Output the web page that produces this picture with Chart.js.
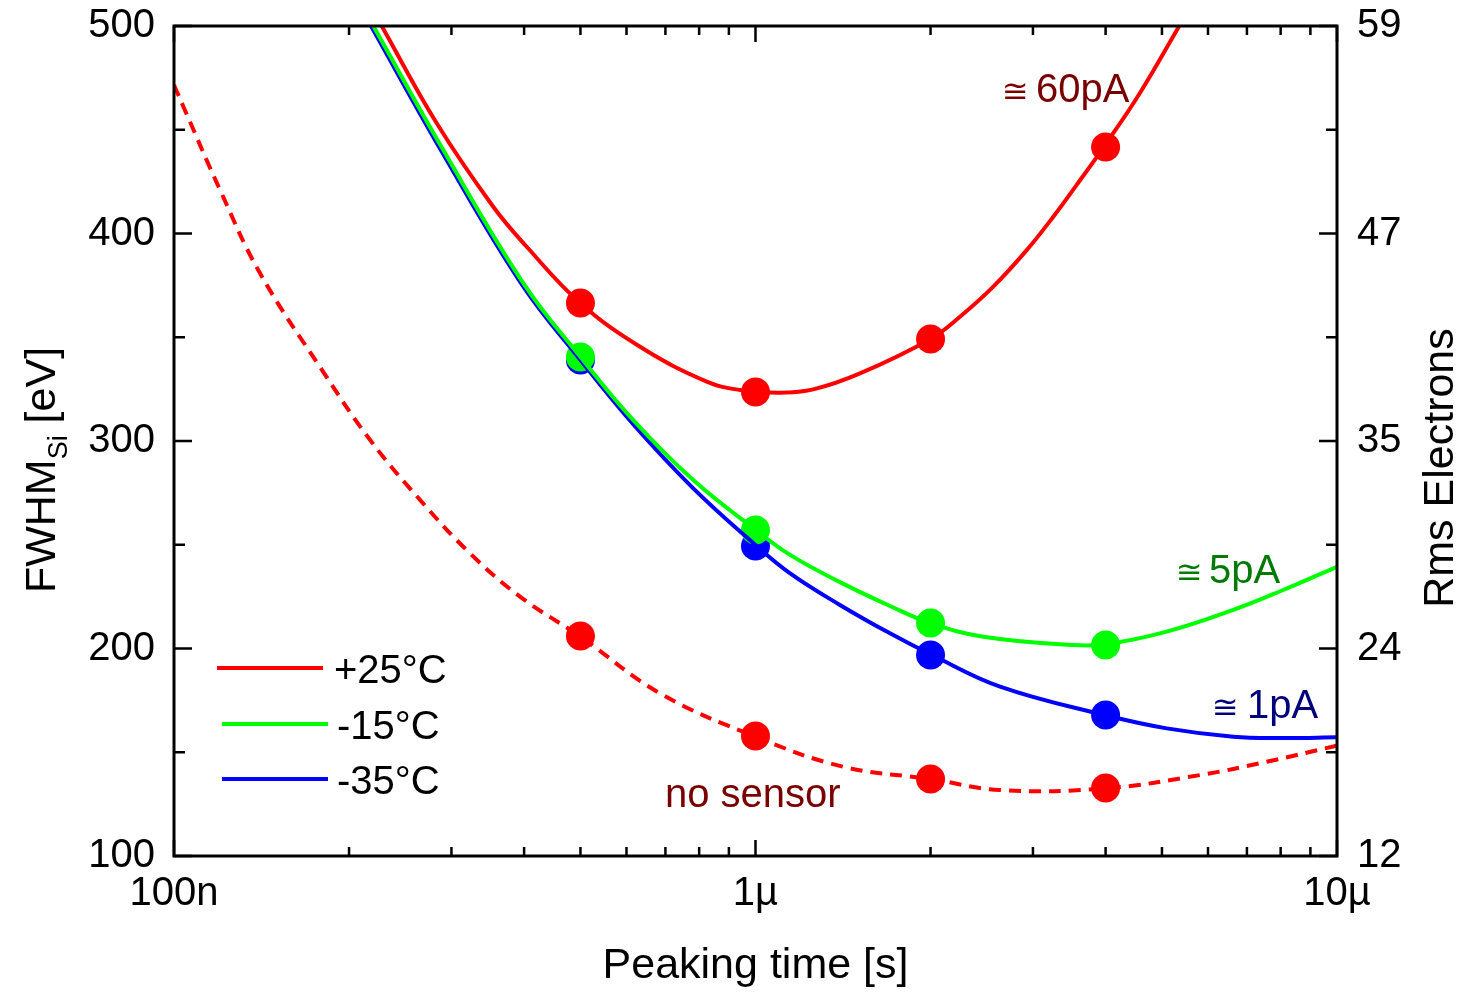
<!DOCTYPE html>
<html><head><meta charset="utf-8">
<script src="https://cdn.jsdelivr.net/npm/chart.js@4.4.0/dist/chart.umd.min.js"></script>
<style>html,body{margin:0;padding:0;background:#fff;}canvas{display:block;}</style>
</head><body>
<canvas id="c" width="1465" height="992"></canvas>
<script>
// ---- data (peaking time in seconds, FWHM in eV) ----
const markerTimes = [5e-7, 1e-6, 2e-6, 4e-6];
const measured25 = [366.5, 323.6, 349.2, 441.7];
const measuredM15 = [340.5, 257.1, 212.3, 201.7];
const measuredM35 = [339.0, 249.4, 196.9, 168.0];
const measuredNoSensor = [206.0, 157.8, 137.1, 132.8];

const fit25Times = [2.276e-7, 2.830e-7, 3.54e-7, 4.042e-7, 5e-7, 6.33e-7, 8.245e-7, 9.404e-7, 1.102e-6, 1.257e-6, 1.5125e-6, 2e-6, 2.247e-6, 2.564e-6, 2.927e-6, 3.252e-6, 3.567e-6, 4e-6, 4.58e-6, 5.355e-6];
const fit25Values = [500, 453.1, 412.9, 393.6, 366.4, 345.4, 328.6, 324.6, 323.3, 324.9, 332.6, 349.2, 359.9, 374.4, 392.0, 408.1, 423.4, 443.0, 467.6, 500];

const fitM15Times = [2.202e-7, 2.905e-7, 3.99e-7, 5e-7, 6.163e-7, 7.816e-7, 1e-6, 1.147e-6, 1.397e-6, 1.703e-6, 2e-6, 2.465e-6, 3.52e-6, 4e-6, 5.095e-6, 6.632e-6, 8.08e-6, 1e-5];
const fitM15Values = [500, 440.2, 376.0, 340.5, 310.1, 281.2, 257.2, 245.1, 232.0, 220.5, 212.2, 205.7, 201.7, 202.0, 208.1, 218.6, 228.2, 239.4];

const fitM35Times = [2.182e-7, 2.89e-7, 3.97e-7, 5e-7, 6.156e-7, 7.816e-7, 1e-6, 1.147e-6, 1.397e-6, 1.703e-6, 2e-6, 2.634e-6, 4e-6, 5.095e-6, 6.632e-6, 8.08e-6, 1e-5];
const fitM35Values = [500, 439.3, 375.2, 339.0, 308.2, 277.2, 249.9, 236.2, 221.0, 207.3, 197.2, 181.6, 167.8, 161.5, 157.5, 156.9, 157.2];

const fitNoSensorTimes = [1e-7, 1.038e-7, 1.2e-7, 1.406e-7, 1.797e-7, 2.174e-7, 2.649e-7, 3.228e-7, 3.936e-7, 5e-7, 6.853e-7, 1e-6, 1.416e-6, 2e-6, 2.634e-6, 4e-6, 5.812e-6, 7.568e-6, 1e-5];
const fitNoSensorValues = [471.6, 461.1, 421, 380.8, 334.2, 300.5, 271.6, 245.9, 225, 205.7, 178.4, 157.5, 143, 137.1, 131.8, 132.6, 139, 145.4, 153.2];

const seriesLabels = ['+25°C', '-15°C', '-35°C'];
const seriesColors = ['#ff0000', '#00ff00', '#0000ff'];

const xTickValues = [1e-7, 1e-6, 1e-5];
const xTickLabels = ['100n', '1µ', '10µ'];
const yTickValues = [100, 200, 300, 400, 500];
const yMinorValues = [150, 250, 350, 450];
const rightTickLabels = ['12', '24', '35', '47', '59'];
const xMinorValues = [2e-7,3e-7,4e-7,5e-7,6e-7,7e-7,8e-7,9e-7,2e-6,3e-6,4e-6,5e-6,6e-6,7e-6,8e-6,9e-6];

const annotations = [
  {sym: '≅', text: '60pA', x: 1002, tx: 1036, y: 102, color: '#7a0000'},
  {sym: '≅', text: '5pA', x: 1176, tx: 1209, y: 583, color: '#007a00'},
  {sym: '≅', text: '1pA', x: 1212, tx: 1247, y: 718, color: '#00007a'}
];

const FONT = '"Liberation Sans", Arial, "DejaVu Sans", sans-serif';

const pts = (xs, ys) => xs.map((x, i) => ({x: x, y: ys[i]}));

function lineDs(label, xs, ys, color, order, dash) {
  return {type: 'line', label, data: pts(xs, ys), borderColor: color, backgroundColor: color,
    borderWidth: 4, pointRadius: 0, tension: 0.4, borderDash: dash || [],
    fill: false, order, yAxisID: 'y'};
}
function markerDs(label, ys, color, order) {
  return {type: 'scatter', label, data: pts(markerTimes, ys), backgroundColor: color, borderColor: color,
    borderWidth: 0, pointRadius: 14.5, pointHoverRadius: 14.5, showLine: false, order, yAxisID: 'y'};
}

const datasets = [
  lineDs(seriesLabels[0], fit25Times, fit25Values, seriesColors[0], 1),
  lineDs(seriesLabels[1], fitM15Times, fitM15Values, seriesColors[1], 2),
  lineDs(seriesLabels[2], fitM35Times, fitM35Values, seriesColors[2], 3),
  lineDs('no sensor', fitNoSensorTimes, fitNoSensorValues, seriesColors[0], 4, [12, 8]),
  markerDs(seriesLabels[0] + ' data', measured25, seriesColors[0], 10),
  markerDs(seriesLabels[1] + ' data', measuredM15, seriesColors[1], 11),
  markerDs(seriesLabels[2] + ' data', measuredM35, seriesColors[2], 12),
  markerDs('no sensor data', measuredNoSensor, seriesColors[0], 13)
];

const decor = {
  id: 'decor',
  afterDraw(chart) {
    const ctx = chart.ctx, a = chart.chartArea, xs = chart.scales.x, ys = chart.scales.y;
    ctx.save();
    ctx.strokeStyle = '#000';
    ctx.lineWidth = 3;
    ctx.strokeRect(a.left, a.top, a.right - a.left, a.bottom - a.top);
    ctx.lineWidth = 2.5;
    ctx.beginPath();
    const tickX = (v, len) => {
      const px = xs.getPixelForValue(v);
      ctx.moveTo(px, a.bottom); ctx.lineTo(px, a.bottom - len);
      ctx.moveTo(px, a.top); ctx.lineTo(px, a.top + len);
    };
    const tickY = (v, len) => {
      const py = ys.getPixelForValue(v);
      ctx.moveTo(a.left, py); ctx.lineTo(a.left + len, py);
      ctx.moveTo(a.right, py); ctx.lineTo(a.right - len, py);
    };
    xTickValues.forEach(v => tickX(v, 16));
    xMinorValues.forEach(v => tickX(v, 9));
    yTickValues.forEach(v => tickY(v, 18));
    yMinorValues.forEach(v => tickY(v, 11));
    ctx.stroke();

    ctx.fillStyle = '#000';
    ctx.font = '43px ' + FONT;
    ctx.textAlign = 'center';
    ctx.textBaseline = 'alphabetic';
    ctx.fillText('Peaking time [s]', (a.left + a.right) / 2, 978);

    ctx.save();
    ctx.translate(55, 470);
    ctx.rotate(-Math.PI / 2);
    ctx.textAlign = 'left';
    const f1 = '43px ' + FONT, f2 = '27px ' + FONT;
    ctx.font = f1; const w1 = ctx.measureText('FWHM').width;
    ctx.font = f2; const w2 = ctx.measureText('Si').width;
    ctx.font = f1; const w3 = ctx.measureText(' [eV]').width;
    let x0 = -(w1 + w2 + w3) / 2;
    ctx.font = f1; ctx.fillText('FWHM', x0, 0);
    ctx.font = f2; ctx.fillText('Si', x0 + w1, 12);
    ctx.font = f1; ctx.fillText(' [eV]', x0 + w1 + w2, 0);
    ctx.restore();

    ctx.save();
    ctx.translate(1453, 468);
    ctx.rotate(-Math.PI / 2);
    ctx.font = '43px ' + FONT;
    ctx.textAlign = 'center';
    ctx.fillText('Rms Electrons', 0, 0);
    ctx.restore();

    const legY = [668, 724, 779];
    const legX0 = [217, 222, 222], legX1 = [323, 328, 328], legTx = [334, 337, 337];
    seriesLabels.forEach((lab, i) => {
      ctx.strokeStyle = seriesColors[i];
      ctx.lineWidth = 4;
      ctx.beginPath(); ctx.moveTo(legX0[i], legY[i]); ctx.lineTo(legX1[i], legY[i]); ctx.stroke();
      ctx.fillStyle = '#000';
      ctx.font = '40px ' + FONT;
      ctx.textAlign = 'left';
      ctx.fillText(lab, legTx[i], legY[i] + 15);
    });

    annotations.forEach(an => {
      ctx.fillStyle = an.color;
      ctx.textAlign = 'left';
      ctx.font = '32px "DejaVu Sans", sans-serif';
      ctx.fillText(an.sym, an.x, an.y);
      ctx.font = '40px ' + FONT;
      ctx.fillText(an.text, an.tx, an.y);
    });
    ctx.fillStyle = '#7a0000';
    ctx.font = '40px ' + FONT;
    ctx.fillText('no sensor', 665, 807);
    ctx.restore();
  }
};

new Chart(document.getElementById('c'), {
  data: {datasets},
  options: {
    responsive: false,
    animation: false,
    devicePixelRatio: 1,
    layout: {padding: {top: 26, left: 0, right: 0, bottom: 0}},
    plugins: {legend: {display: false}, tooltip: {enabled: false}},
    scales: {
      x: {
        type: 'logarithmic', position: 'bottom', min: 1e-7, max: 1e-5,
        grid: {display: false, drawTicks: false}, border: {display: false},
        afterBuildTicks: s => { s.ticks = xTickValues.map(v => ({value: v})); },
        afterFit: s => { s.height = 136; s.paddingLeft = 0; s.paddingRight = 0; },
        ticks: {autoSkip: false, maxRotation: 0, padding: 14, color: '#000',
          font: {family: FONT, size: 40},
          callback: (v) => { const i = xTickValues.indexOf(v); return i >= 0 ? xTickLabels[i] : ''; }}
      },
      y: {
        type: 'linear', position: 'left', min: 100, max: 500,
        grid: {display: false, drawTicks: false}, border: {display: false},
        afterBuildTicks: s => { s.ticks = yTickValues.map(v => ({value: v})); },
        afterFit: s => { s.width = 174; s.paddingTop = 0; s.paddingBottom = 0; },
        ticks: {padding: 19, color: '#000', font: {family: FONT, size: 40}}
      },
      y2: {
        type: 'linear', position: 'right', min: 100, max: 500,
        grid: {display: false, drawTicks: false}, border: {display: false},
        afterBuildTicks: s => { s.ticks = yTickValues.map(v => ({value: v})); },
        afterFit: s => { s.width = 128; s.paddingTop = 0; s.paddingBottom = 0; },
        ticks: {padding: 20, color: '#000', font: {family: FONT, size: 40},
          callback: (v) => { const i = yTickValues.indexOf(v); return i >= 0 ? rightTickLabels[i] : ''; }}
      }
    }
  },
  plugins: [decor]
});
</script>
</body></html>
